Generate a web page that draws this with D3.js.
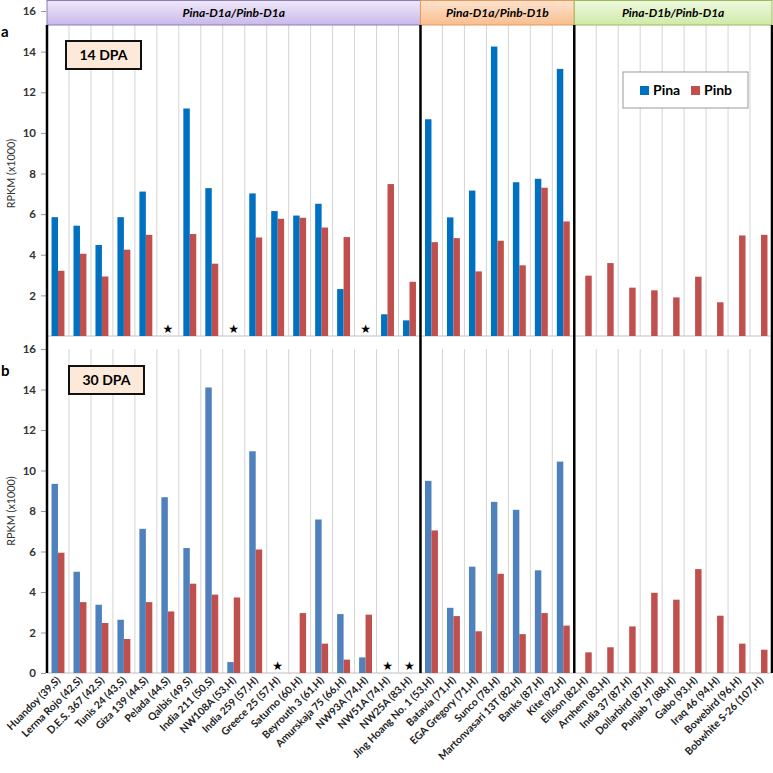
<!DOCTYPE html>
<meta charset="utf-8">
<style type="text/css">
  body { margin: 0; background: #fff; font-family: Lato, "Open Sans", sans-serif; }
  .axis text { font: bold 11.5px Lato, sans-serif; fill: #333; }
  .axis line { stroke: #999; }
  .xlab { font: bold 10.4px Lato, sans-serif; fill: #222; }
</style>
<body></body>
<script src="https://d3js.org/d3.v7.min.js"></script>
<script>
  var cultivars = ["Huandoy (39,S)", "Lerma Rojo (42,S)", "D.E.S. 367 (42,S)", "Tunis 24 (43,S)",
    "Giza 139 (44,S)", "Pelada (44,S)", "Qalbis (49,S)", "India 211 (50,S)", "NW108A (53,H)",
    "India 259 (57,H)", "Greece 25 (57,H)", "Saturno (60,H)", "Beyrouth 3 (61,H)",
    "Amurskaja 75 (66,H)", "NW93A (74,H)", "NW51A (74,H)", "NW25A (83,H)",
    "Jing Hoang No. 1 (53,H)", "Batavia (71,H)", "EGA Gregory (71,H)", "Sunco (78,H)",
    "Martonvasari 13T (82,H)", "Banks (87,H)", "Kite (92,H)",
    "Ellison (82,H)", "Arnhem (83,H)", "India 37 (87,H)", "Dollarbird (87,H)", "Punjab 7 (88,H)",
    "Gabo (93,H)", "Iraq 46 (94,H)", "Bowebird (96,H)", "Bobwhite S-26 (107,H)"];

  var groupNames = ["Pina-D1a/Pinb-D1a", "Pina-D1a/Pinb-D1b", "Pina-D1b/Pinb-D1a"];
  var groupSizes = [17, 7, 9];

  // null = not detected (star)
  var pina14 = [5.85, 5.43, 4.48, 5.85, 7.11, null, 11.2, 7.28, null, 7.02, 6.15, 5.93, 6.51, 2.31, null, 1.07, 0.77,
    10.67, 5.84, 7.16, 14.25, 7.57, 7.74, 13.15,
    0, 0, 0, 0, 0, 0, 0, 0, 0];
  var pinb14 = [3.21, 4.05, 2.93, 4.25, 4.98, null, 5.02, 3.56, null, 4.85, 5.77, 5.82, 5.34, 4.87, null, 7.48, 2.67,
    4.62, 4.82, 3.18, 4.69, 3.48, 7.30, 5.64,
    2.97, 3.59, 2.38, 2.25, 1.90, 2.92, 1.66, 4.95, 4.98];
  var pina30 = [9.34, 5.0, 3.37, 2.63, 7.12, 8.68, 6.17, 14.1, 0.54, 10.95, null, 0, 7.58, 2.91, 0.77, null, null,
    9.49, 3.22, 5.25, 8.45, 8.06, 5.07, 10.44,
    0, 0, 0, 0, 0, 0, 0, 0, 0];
  var pinb30 = [5.94, 3.5, 2.47, 1.68, 3.5, 3.04, 4.41, 3.87, 3.73, 6.1, null, 2.96, 1.45, 0.66, 2.88, null, null,
    7.04, 2.81, 2.06, 4.9, 1.92, 2.96, 2.34,
    1.02, 1.27, 2.3, 3.96, 3.62, 5.13, 2.83, 1.45, 1.15];

  var yTicksTop = [2, 4, 6, 8, 10, 12, 14, 16];
  var yTicksBottom = [0, 2, 4, 6, 8, 10, 12, 14, 16];

  var W = 773, H = 773;
  var svg = d3.select("body").append("svg").attr("width", W).attr("height", H);
  var defs = svg.append("defs");

  var x = d3.scaleBand().domain(cultivars).range([47, 772]).paddingInner(0).paddingOuter(0);
  var sub = d3.scaleBand().domain(["Pina", "Pinb"]).range([0, x.bandwidth()]).paddingInner(0).paddingOuter(0.7);

  var panels = [
    { y: d3.scaleLinear().domain([0, 16]).range([336, 11]), top: 25, a: pina14, b: pinb14,
      ca: "#0070C0", cb: "#C0504D", ticks: yTicksTop, letter: "a", dpa: "14 DPA", box: [66, 41] },
    { y: d3.scaleLinear().domain([0, 16]).range([673, 349]), top: 349, a: pina30, b: pinb30,
      ca: "#4F81BD", cb: "#C0504D", ticks: yTicksBottom, letter: "b", dpa: "30 DPA", box: [69, 366] }
  ];

  // group boundaries
  var bounds = [0];
  groupSizes.forEach(function(n, i) { bounds.push(bounds[i] + n); });
  var boundX = bounds.map(function(i) {
    return i < cultivars.length ? x(cultivars[i]) : x.range()[1];
  });

  panels.forEach(function(p) {
    var g = svg.append("g");
    var base = p.y(0);

    // light vertical gridlines
    g.selectAll(".grid")
      .data(cultivars.slice(1).filter(function(c, i) { return bounds.indexOf(i + 1) < 0; }))
      .enter().append("line")
      .attr("x1", function(d) { return x(d); })
      .attr("x2", function(d) { return x(d); })
      .attr("y1", p.top).attr("y2", base)
      .attr("stroke", "#d4d4d4").attr("stroke-width", 1);

    g.append("line")
      .attr("x1", x.range()[0]).attr("x2", x.range()[1])
      .attr("y1", base).attr("y2", base)
      .attr("stroke", "#bfbfbf");

    var bars = g.selectAll(".col").data(cultivars).enter().append("g")
      .attr("transform", function(d) { return "translate(" + x(d) + ",0)"; });

    bars.append("rect")
      .attr("x", sub("Pina")).attr("width", sub.bandwidth())
      .attr("y", function(d, i) { return p.y(p.a[i] || 0); })
      .attr("height", function(d, i) { return base - p.y(p.a[i] || 0); })
      .attr("fill", p.ca);

    bars.append("rect")
      .attr("x", sub("Pinb")).attr("width", sub.bandwidth())
      .attr("y", function(d, i) { return p.y(p.b[i] || 0); })
      .attr("height", function(d, i) { return base - p.y(p.b[i] || 0); })
      .attr("fill", p.cb);

    bars.filter(function(d, i) { return p.a[i] === null && p.b[i] === null; })
      .append("text")
      .attr("x", x.bandwidth() / 2).attr("y", base - 3)
      .attr("text-anchor", "middle")
      .style("font", "12px DejaVu Sans, sans-serif")
      .text("\u2605");

    var yAxis = d3.axisLeft(p.y).tickValues(p.ticks).tickSize(5).tickPadding(5);
    var ax = g.append("g").attr("class", "axis")
      .attr("transform", "translate(46,0)")
      .call(yAxis);
    ax.select(".domain").remove();

    var mid = (base + p.y(16)) / 2;
    g.append("text")
      .attr("transform", "translate(15," + mid + ") rotate(-90)")
      .attr("text-anchor", "middle")
      .style("font", "10.8px Lato, sans-serif").style("fill", "#333")
      .text("RPKM (x1000)");

    g.append("text")
      .attr("x", 1).attr("y", p.letter === "a" ? 37 : 376)
      .style("font", "bold 15px Lato, sans-serif")
      .text(p.letter);

    g.append("rect")
      .attr("x", p.box[0]).attr("y", p.box[1])
      .attr("width", 75).attr("height", 28)
      .attr("fill", "#FDE9D9").attr("stroke", "#111").attr("stroke-width", 2);
    g.append("text")
      .attr("x", p.box[0] + 37.5).attr("y", p.box[1] + 19)
      .attr("text-anchor", "middle")
      .style("font", "bold 14px Lato, sans-serif")
      .text(p.dpa);
  });

  // x labels under bottom panel
  svg.append("g").selectAll("text").data(cultivars).enter().append("text")
    .attr("class", "xlab")
    .attr("text-anchor", "end")
    .attr("transform", function(d) {
      return "translate(" + (x(d) + x.bandwidth() / 2 + 3) + ",681) rotate(-45)";
    })
    .text(function(d) { return d; });

  // header bands
  var bandStyle = [
    ["#EFE9F9", "#C9B8EA", "#8E7CB8"],
    ["#FDE3CF", "#F9BE8E", "#E59A5C"],
    ["#EEF8DF", "#CFEAA8", "#9BBB59"]
  ];
  groupNames.forEach(function(name, i) {
    var grad = defs.append("linearGradient").attr("id", "hg" + i)
      .attr("x1", 0).attr("y1", 0).attr("x2", 0).attr("y2", 1);
    grad.append("stop").attr("offset", "0%").attr("stop-color", bandStyle[i][0]);
    grad.append("stop").attr("offset", "100%").attr("stop-color", bandStyle[i][1]);
    svg.append("rect")
      .attr("x", boundX[i]).attr("y", 0.5)
      .attr("width", boundX[i + 1] - boundX[i]).attr("height", 24.5)
      .attr("fill", "url(#hg" + i + ")")
      .attr("stroke", bandStyle[i][2]).attr("stroke-width", 1);
    svg.append("text")
      .attr("x", (boundX[i] + boundX[i + 1]) / 2).attr("y", 17)
      .attr("text-anchor", "middle")
      .style("font", "italic bold 12px Lato, sans-serif")
      .text(name);
  });

  // thick group separators
  svg.append("g").selectAll("line").data(boundX).enter().append("line")
    .attr("x1", function(d) { return d; }).attr("x2", function(d) { return d; })
    .attr("y1", 25).attr("y2", 673)
    .attr("stroke", "#000").attr("stroke-width", 2.5);

  // legend
  var leg = svg.append("g").attr("transform", "translate(623,72)");
  leg.append("rect").attr("width", 125).attr("height", 36)
    .attr("fill", "#fff").attr("stroke", "#999");
  [["Pina", "#0070C0", 17], ["Pinb", "#C0504D", 68]].forEach(function(s) {
    leg.append("rect").attr("x", s[2]).attr("y", 14).attr("width", 9).attr("height", 9).attr("fill", s[1]);
    leg.append("text").attr("x", s[2] + 13).attr("y", 23)
      .style("font", "bold 14px Lato, sans-serif").text(s[0]);
  });
</script>
